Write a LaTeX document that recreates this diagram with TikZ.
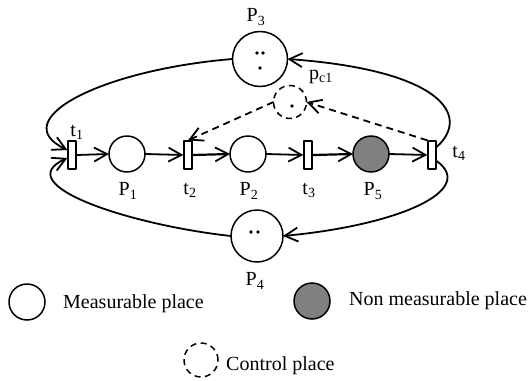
\documentclass[tikz,border=0pt]{standalone}
\usepackage{fontspec}
\setmainfont{Liberation Serif}
\usetikzlibrary{arrows.meta}
\definecolor{unmeas}{HTML}{808080}
\tikzset{
    every picture/.style={line join=round},
    place/.style={draw,circle,line width=1.5pt,minimum size=36pt,inner sep=0pt,outer sep=0pt},
    bigplace/.style={place,minimum size=55pt},
    ctrlplace/.style={place,dash pattern=on 6pt off 4.5pt,minimum size=33pt},
    trans/.style={draw,fill=white,line width=1.3pt,minimum width=8pt,minimum height=28pt,inner sep=0pt},
    flowarc/.style={-{Straight Barb[length=13pt,width=14pt,line width=1.8pt]},line width=1.8pt},
    ctrlarc/.style={flowarc,dash pattern=on 7pt off 5pt},
    lbl/.style={inner sep=1pt},
    token/.style={fill=black}
}
\begin{document}
\begin{tikzpicture}[x=1pt,y=-1pt,font=\fontsize{20}{24}\selectfont]
  \useasboundingbox (0,0) rectangle (532,380);
  % places and transitions
  \node[place] (p1) at (127,154) {};
  \node[place] (p2) at (248,154) {};
  \node[place,fill=unmeas] (p5) at (371,154) {};
  \node[bigplace] (p3) at (260,59) {};
  \node[bigplace,minimum size=52pt] (p4) at (257,236) {};
  \node[ctrlplace] (pc1) at (290,102) {};
  \foreach \x [count=\i] in {72,188,308,432}{\node[trans] (t\i) at (\x,155) {};}
  % tokens
  \foreach \tx/\ty in {257/53,263/53,260/68,251/232,258/232,292/106}{\fill[token] (\tx,\ty) circle (1.8);}
  % labels
  \node[lbl] (lt1) at (77,132) {t\textsubscript{1}};
  \node[lbl] (lt2) at (190,190) {t\textsubscript{2}};
  \node[lbl] (lt3) at (309,190) {t\textsubscript{3}};
  \node[lbl] (lt4) at (459,153) {t\textsubscript{4}};
  \node[lbl] (lp1) at (128,191) {P\textsubscript{1}};
  \node[lbl] (lp2) at (249,191) {P\textsubscript{2}};
  \node[lbl] (lp5) at (373,191) {P\textsubscript{5}};
  \node[lbl] (lp3) at (256,17) {P\textsubscript{3}};
  \node[lbl] (lp4) at (255,281) {P\textsubscript{4}};
  \node[lbl] (lpc1) at (321,77) {p\textsubscript{c1}};
  % main chain
  \draw[flowarc] (t1.east) -- (p1.west);
  \draw[flowarc] (p1.east) -- (t2.west);
  \draw[flowarc,line width=2.2pt] (t2.east) -- (p2.west);
  \draw[flowarc] (p2.east) -- (t3.west);
  \draw[flowarc,line width=2.2pt] (t3.east) -- (p5.west);
  \draw[flowarc] (p5.east) -- (t4.west);
  % loops through P3 and P4
  \draw[flowarc] (p3.west) .. controls (100,70) and (5,120) .. ([yshift=5pt]t1.west);
  \draw[flowarc] (p4.west) .. controls (130,225) and (8,185) .. ([yshift=-3pt]t1.west);
  \draw[flowarc] ([yshift=8pt]t4.east) .. controls (472,115) and (440,70) .. (p3.east);
  \draw[flowarc] ([yshift=-6pt]t4.east) .. controls (477,190) and (400,225) .. (p4.east);
  % control place
  \draw[ctrlarc] (t4.north west) -- (pc1.east);
  \draw[ctrlarc] (pc1.west) -- (t2.north);
  % legend
  \node[place] (lm) at (27,302) {};
  \node[lbl,anchor=base west] (lmt) at (62,308) {Measurable place};
  \node[place,fill=unmeas] (ln) at (312,301) {};
  \node[lbl,anchor=base west] (lnt) at (348,305) {Non measurable place};
  \node[ctrlplace,minimum size=34pt] (lc) at (201,360) {};
  \node[lbl,anchor=base west] (lct) at (225,370) {Control place};
\end{tikzpicture}
\end{document}
